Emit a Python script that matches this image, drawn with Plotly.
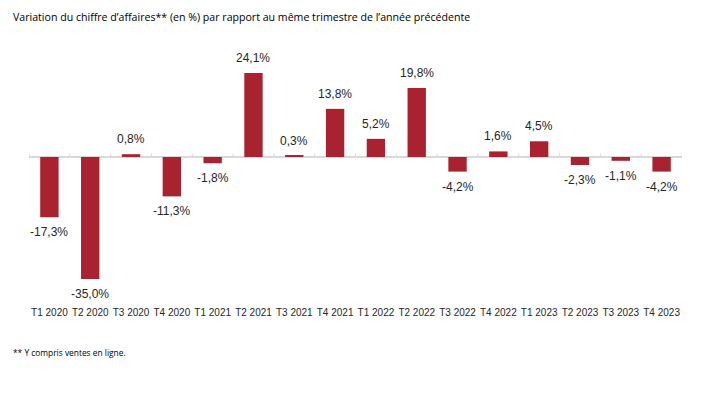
import plotly.graph_objects as go

categories = ["T1 2020", "T2 2020", "T3 2020", "T4 2020", "T1 2021", "T2 2021", "T3 2021", "T4 2021",
              "T1 2022", "T2 2022", "T3 2022", "T4 2022", "T1 2023", "T2 2023", "T3 2023", "T4 2023"]
values = [-17.3, -35.0, 0.8, -11.3, -1.8, 24.1, 0.3, 13.8, 5.2, 19.8, -4.2, 1.6, 4.5, -2.3, -1.1, -4.2]

title_text = "Variation du chiffre d\u2019affaires** (en %) par rapport au même trimestre de l\u2019année précédente"
footnote_text = "** Y compris ventes en ligne."

BAR = "#A8232F"
TXT = "#262626"

fig = go.Figure()
fig.add_trace(go.Bar(x=categories, y=values, marker=dict(color=BAR, line=dict(width=0)),
                     width=0.45, hoverinfo="skip"))

annotations = []
for c, v in zip(categories, values):
    annotations.append(dict(x=c, y=v, xref="x", yref="y", text=f"{v:.1f}%".replace(".", ","),
                            showarrow=False, yanchor="middle", yshift=15 if v >= 0 else -15,
                            font=dict(family="Liberation Sans, Arial", size=12, color=TXT)))
annotations.append(dict(x=0, y=1, xref="paper", yref="paper", xanchor="left", yanchor="middle",
                        text=title_text, showarrow=False, xshift=-18, yshift=28,
                        font=dict(family="Open Sans", size=10.6, color="#000000")))
annotations.append(dict(x=0, y=0, xref="paper", yref="paper", xanchor="left", yanchor="middle",
                        text=footnote_text, showarrow=False, xshift=-18, yshift=-52,
                        font=dict(family="Open Sans", size=8.4, color="#000000")))

# small upward tick marks on the zero line at category boundaries
shapes = []
n = len(categories)
for i in range(n + 1):
    shapes.append(dict(type="line", xref="x", yref="y", x0=i - 0.5, x1=i - 0.5, y0=0, y1=1.0,
                       line=dict(color="#D9D9D9", width=1)))

# page has an 8px body margin, so the figure is 8px smaller and shifted
fig.update_layout(
    width=694, height=385,
    margin=dict(l=21, r=20, t=37, b=93),
    paper_bgcolor="white", plot_bgcolor="white",
    showlegend=False,
    annotations=annotations,
    shapes=shapes,
    xaxis=dict(showline=False, showgrid=False, ticks="outside", ticklen=3, tickcolor="rgba(0,0,0,0)",
               tickangle=0, automargin=False,
               tickfont=dict(family="Liberation Sans, Arial", size=10, color=TXT),
               range=[-0.5, n - 0.5], fixedrange=True),
    yaxis=dict(range=[-41, 32.1], showgrid=False, showticklabels=False, zeroline=True,
               zerolinecolor="#D9D9D9", zerolinewidth=1.5, showline=False, automargin=False),
)

fig.write_html("out.html")
